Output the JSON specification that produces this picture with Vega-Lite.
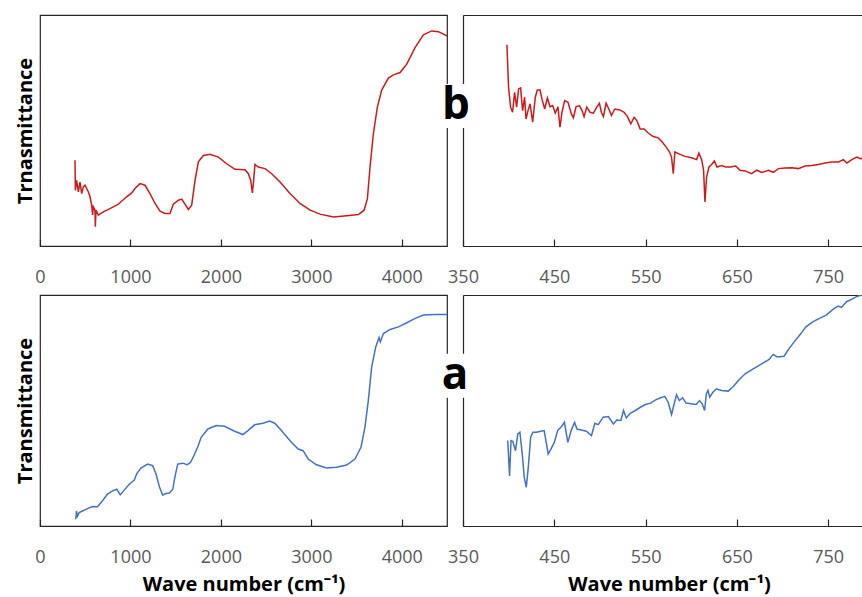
{
  "$schema": "https://vega.github.io/schema/vega-lite/v6.json",
  "background": "white",
  "padding": {"left": 14, "top": 14, "right": 0, "bottom": 0},
  "datasets": {
    "b_full": [
      {"wavenumber": 387, "transmittance": 37.1}, {"wavenumber": 391, "transmittance": 24.1}, {"wavenumber": 405, "transmittance": 28.4},
      {"wavenumber": 424, "transmittance": 23.4}, {"wavenumber": 442, "transmittance": 27.7}, {"wavenumber": 461, "transmittance": 22.7},
      {"wavenumber": 479, "transmittance": 25.6}, {"wavenumber": 498, "transmittance": 26.3}, {"wavenumber": 516, "transmittance": 24.9},
      {"wavenumber": 535, "transmittance": 23.4}, {"wavenumber": 553, "transmittance": 21.3}, {"wavenumber": 571, "transmittance": 17.7},
      {"wavenumber": 582, "transmittance": 13.4}, {"wavenumber": 590, "transmittance": 17.0}, {"wavenumber": 608, "transmittance": 15.5},
      {"wavenumber": 612, "transmittance": 8.3}, {"wavenumber": 619, "transmittance": 15.5}, {"wavenumber": 645, "transmittance": 13.4},
      {"wavenumber": 700, "transmittance": 14.8}, {"wavenumber": 774, "transmittance": 16.2}, {"wavenumber": 866, "transmittance": 18.1},
      {"wavenumber": 958, "transmittance": 21.3}, {"wavenumber": 1014, "transmittance": 23.0}, {"wavenumber": 1050, "transmittance": 24.9},
      {"wavenumber": 1106, "transmittance": 27.0}, {"wavenumber": 1161, "transmittance": 26.3}, {"wavenumber": 1216, "transmittance": 22.7},
      {"wavenumber": 1272, "transmittance": 18.4}, {"wavenumber": 1327, "transmittance": 15.1}, {"wavenumber": 1382, "transmittance": 14.1},
      {"wavenumber": 1437, "transmittance": 14.1}, {"wavenumber": 1474, "transmittance": 18.1}, {"wavenumber": 1530, "transmittance": 19.8},
      {"wavenumber": 1567, "transmittance": 20.3}, {"wavenumber": 1603, "transmittance": 18.1}, {"wavenumber": 1640, "transmittance": 15.8},
      {"wavenumber": 1677, "transmittance": 17.7}, {"wavenumber": 1714, "transmittance": 28.4}, {"wavenumber": 1751, "transmittance": 36.4},
      {"wavenumber": 1806, "transmittance": 39.2}, {"wavenumber": 1880, "transmittance": 39.7}, {"wavenumber": 1972, "transmittance": 38.5},
      {"wavenumber": 2064, "transmittance": 35.6}, {"wavenumber": 2156, "transmittance": 33.2}, {"wavenumber": 2267, "transmittance": 33.0},
      {"wavenumber": 2304, "transmittance": 31.3}, {"wavenumber": 2330, "transmittance": 28.4}, {"wavenumber": 2348, "transmittance": 23.0},
      {"wavenumber": 2359, "transmittance": 27.0}, {"wavenumber": 2377, "transmittance": 35.3}, {"wavenumber": 2414, "transmittance": 34.2},
      {"wavenumber": 2488, "transmittance": 33.5}, {"wavenumber": 2562, "transmittance": 31.3}, {"wavenumber": 2654, "transmittance": 27.7},
      {"wavenumber": 2764, "transmittance": 22.7}, {"wavenumber": 2875, "transmittance": 18.4}, {"wavenumber": 2986, "transmittance": 15.5},
      {"wavenumber": 3096, "transmittance": 13.8}, {"wavenumber": 3244, "transmittance": 12.6}, {"wavenumber": 3391, "transmittance": 13.1},
      {"wavenumber": 3520, "transmittance": 13.6}, {"wavenumber": 3583, "transmittance": 15.5}, {"wavenumber": 3620, "transmittance": 20.5},
      {"wavenumber": 3649, "transmittance": 34.2}, {"wavenumber": 3686, "transmittance": 48.6}, {"wavenumber": 3730, "transmittance": 60.1},
      {"wavenumber": 3778, "transmittance": 67.5}, {"wavenumber": 3852, "transmittance": 72.7}, {"wavenumber": 3907, "transmittance": 74.1},
      {"wavenumber": 3981, "transmittance": 75.1}, {"wavenumber": 4055, "transmittance": 78.7}, {"wavenumber": 4147, "transmittance": 85.9},
      {"wavenumber": 4239, "transmittance": 91.4}, {"wavenumber": 4331, "transmittance": 93.1}, {"wavenumber": 4405, "transmittance": 92.8},
      {"wavenumber": 4504, "transmittance": 90.9}
    ],
    "b_zoom": [
      {"wavenumber": 398.1, "transmittance": 87.1}, {"wavenumber": 399.9, "transmittance": 68.7}, {"wavenumber": 402.1, "transmittance": 60.1},
      {"wavenumber": 404.3, "transmittance": 57.9}, {"wavenumber": 406.5, "transmittance": 66.5}, {"wavenumber": 408.7, "transmittance": 60.1},
      {"wavenumber": 410.9, "transmittance": 68.0}, {"wavenumber": 413.1, "transmittance": 68.4}, {"wavenumber": 415.3, "transmittance": 58.6},
      {"wavenumber": 417.5, "transmittance": 64.4}, {"wavenumber": 419.0, "transmittance": 55.0}, {"wavenumber": 421.2, "transmittance": 58.6},
      {"wavenumber": 423.4, "transmittance": 61.5}, {"wavenumber": 426.3, "transmittance": 53.6}, {"wavenumber": 429.2, "transmittance": 64.4},
      {"wavenumber": 431.4, "transmittance": 67.5}, {"wavenumber": 434.4, "transmittance": 67.5}, {"wavenumber": 436.5, "transmittance": 63.6},
      {"wavenumber": 439.5, "transmittance": 59.3}, {"wavenumber": 442.4, "transmittance": 64.1}, {"wavenumber": 445.3, "transmittance": 60.3},
      {"wavenumber": 448.2, "transmittance": 60.8}, {"wavenumber": 451.1, "transmittance": 57.5}, {"wavenumber": 454.0, "transmittance": 60.3},
      {"wavenumber": 456.2, "transmittance": 51.4}, {"wavenumber": 458.4, "transmittance": 57.9}, {"wavenumber": 461.4, "transmittance": 62.9},
      {"wavenumber": 465.0, "transmittance": 62.2}, {"wavenumber": 468.7, "transmittance": 57.2}, {"wavenumber": 470.9, "transmittance": 55.5},
      {"wavenumber": 473.8, "transmittance": 60.3}, {"wavenumber": 477.5, "transmittance": 60.8}, {"wavenumber": 480.4, "transmittance": 58.6},
      {"wavenumber": 482.6, "transmittance": 56.0}, {"wavenumber": 485.5, "transmittance": 60.1}, {"wavenumber": 489.2, "transmittance": 57.9},
      {"wavenumber": 492.8, "transmittance": 57.5}, {"wavenumber": 496.5, "transmittance": 60.1}, {"wavenumber": 499.4, "transmittance": 61.8},
      {"wavenumber": 501.6, "transmittance": 57.9}, {"wavenumber": 503.8, "transmittance": 56.0}, {"wavenumber": 506.7, "transmittance": 61.8},
      {"wavenumber": 509.7, "transmittance": 59.3}, {"wavenumber": 512.6, "transmittance": 56.5}, {"wavenumber": 516.2, "transmittance": 59.3},
      {"wavenumber": 521.7, "transmittance": 58.9}, {"wavenumber": 526.5, "transmittance": 57.9}, {"wavenumber": 530.1, "transmittance": 56.0},
      {"wavenumber": 533.8, "transmittance": 52.9}, {"wavenumber": 537.4, "transmittance": 55.7}, {"wavenumber": 540.4, "transmittance": 54.3},
      {"wavenumber": 544.0, "transmittance": 50.7}, {"wavenumber": 548.4, "transmittance": 50.7}, {"wavenumber": 552.8, "transmittance": 48.9},
      {"wavenumber": 558.3, "transmittance": 47.4}, {"wavenumber": 563.8, "transmittance": 46.8}, {"wavenumber": 568.2, "transmittance": 45.0},
      {"wavenumber": 572.6, "transmittance": 42.8}, {"wavenumber": 576.2, "transmittance": 40.7}, {"wavenumber": 578.4, "transmittance": 38.5},
      {"wavenumber": 580.3, "transmittance": 31.3}, {"wavenumber": 582.1, "transmittance": 40.7}, {"wavenumber": 586.5, "transmittance": 39.9},
      {"wavenumber": 593.1, "transmittance": 38.8}, {"wavenumber": 600.4, "transmittance": 38.2}, {"wavenumber": 605.9, "transmittance": 37.4},
      {"wavenumber": 608.4, "transmittance": 40.2}, {"wavenumber": 611.4, "transmittance": 37.4}, {"wavenumber": 613.5, "transmittance": 32.8},
      {"wavenumber": 615.0, "transmittance": 19.1}, {"wavenumber": 616.8, "transmittance": 29.9}, {"wavenumber": 619.4, "transmittance": 34.2},
      {"wavenumber": 622.3, "transmittance": 35.3}, {"wavenumber": 625.3, "transmittance": 36.8}, {"wavenumber": 628.2, "transmittance": 34.2},
      {"wavenumber": 633.3, "transmittance": 34.8}, {"wavenumber": 637.7, "transmittance": 34.2}, {"wavenumber": 642.8, "transmittance": 34.2},
      {"wavenumber": 648.7, "transmittance": 34.6}, {"wavenumber": 653.4, "transmittance": 32.8}, {"wavenumber": 658.9, "transmittance": 32.5},
      {"wavenumber": 666.2, "transmittance": 31.3}, {"wavenumber": 671.7, "transmittance": 32.8}, {"wavenumber": 677.2, "transmittance": 31.8},
      {"wavenumber": 684.5, "transmittance": 32.8}, {"wavenumber": 690.0, "transmittance": 31.9}, {"wavenumber": 695.4, "transmittance": 33.5},
      {"wavenumber": 702.7, "transmittance": 33.8}, {"wavenumber": 710.0, "transmittance": 33.9}, {"wavenumber": 717.3, "transmittance": 33.5},
      {"wavenumber": 724.6, "transmittance": 34.6}, {"wavenumber": 732.0, "transmittance": 34.8}, {"wavenumber": 739.3, "transmittance": 35.3},
      {"wavenumber": 746.6, "transmittance": 35.9}, {"wavenumber": 753.9, "transmittance": 36.4}, {"wavenumber": 761.2, "transmittance": 36.4},
      {"wavenumber": 766.7, "transmittance": 37.4}, {"wavenumber": 770.4, "transmittance": 35.9}, {"wavenumber": 775.8, "transmittance": 37.4},
      {"wavenumber": 781.3, "transmittance": 38.5}, {"wavenumber": 785.4, "transmittance": 37.8}, {"wavenumber": 790, "transmittance": 38.2}
    ],
    "a_full": [
      {"wavenumber": 396, "transmittance": 2.9}, {"wavenumber": 403, "transmittance": 6.5}, {"wavenumber": 414, "transmittance": 4.3},
      {"wavenumber": 433, "transmittance": 5.8}, {"wavenumber": 470, "transmittance": 6.5}, {"wavenumber": 525, "transmittance": 7.5},
      {"wavenumber": 580, "transmittance": 8.4}, {"wavenumber": 636, "transmittance": 8.3}, {"wavenumber": 691, "transmittance": 10.9},
      {"wavenumber": 747, "transmittance": 13.8}, {"wavenumber": 802, "transmittance": 15.2}, {"wavenumber": 850, "transmittance": 15.9},
      {"wavenumber": 887, "transmittance": 13.5}, {"wavenumber": 924, "transmittance": 15.2}, {"wavenumber": 987, "transmittance": 18.1},
      {"wavenumber": 1043, "transmittance": 19.9}, {"wavenumber": 1072, "transmittance": 22.8}, {"wavenumber": 1116, "transmittance": 25.1},
      {"wavenumber": 1190, "transmittance": 26.8}, {"wavenumber": 1246, "transmittance": 26.1}, {"wavenumber": 1283, "transmittance": 22.5},
      {"wavenumber": 1320, "transmittance": 17.0}, {"wavenumber": 1357, "transmittance": 13.3}, {"wavenumber": 1394, "transmittance": 14.1},
      {"wavenumber": 1431, "transmittance": 14.3}, {"wavenumber": 1468, "transmittance": 15.9}, {"wavenumber": 1494, "transmittance": 21.7},
      {"wavenumber": 1523, "transmittance": 26.8}, {"wavenumber": 1579, "transmittance": 27.2}, {"wavenumber": 1627, "transmittance": 26.5},
      {"wavenumber": 1664, "transmittance": 27.5}, {"wavenumber": 1701, "transmittance": 30.4}, {"wavenumber": 1745, "transmittance": 34.3},
      {"wavenumber": 1782, "transmittance": 38.4}, {"wavenumber": 1856, "transmittance": 42.0}, {"wavenumber": 1948, "transmittance": 43.5},
      {"wavenumber": 2041, "transmittance": 43.2}, {"wavenumber": 2152, "transmittance": 41.0}, {"wavenumber": 2244, "transmittance": 39.6},
      {"wavenumber": 2299, "transmittance": 41.3}, {"wavenumber": 2373, "transmittance": 43.8}, {"wavenumber": 2466, "transmittance": 44.5},
      {"wavenumber": 2540, "transmittance": 45.4}, {"wavenumber": 2595, "transmittance": 44.5}, {"wavenumber": 2669, "transmittance": 41.3},
      {"wavenumber": 2762, "transmittance": 37.0}, {"wavenumber": 2854, "transmittance": 33.3}, {"wavenumber": 2909, "transmittance": 32.6},
      {"wavenumber": 2965, "transmittance": 29.0}, {"wavenumber": 3057, "transmittance": 26.5}, {"wavenumber": 3168, "transmittance": 25.1},
      {"wavenumber": 3279, "transmittance": 25.4}, {"wavenumber": 3390, "transmittance": 26.4}, {"wavenumber": 3482, "transmittance": 29.0},
      {"wavenumber": 3549, "transmittance": 34.1}, {"wavenumber": 3593, "transmittance": 42.8}, {"wavenumber": 3630, "transmittance": 54.3},
      {"wavenumber": 3667, "transmittance": 68.8}, {"wavenumber": 3712, "transmittance": 77.5}, {"wavenumber": 3749, "transmittance": 81.6},
      {"wavenumber": 3763, "transmittance": 79.7}, {"wavenumber": 3797, "transmittance": 83.3}, {"wavenumber": 3871, "transmittance": 85.1},
      {"wavenumber": 3963, "transmittance": 86.2}, {"wavenumber": 4056, "transmittance": 88.0}, {"wavenumber": 4148, "transmittance": 89.9},
      {"wavenumber": 4240, "transmittance": 91.3}, {"wavenumber": 4370, "transmittance": 91.6}, {"wavenumber": 4507, "transmittance": 91.6}
    ],
    "a_zoom": [
      {"wavenumber": 399.0, "transmittance": 37.0}, {"wavenumber": 401.0, "transmittance": 21.7}, {"wavenumber": 402.6, "transmittance": 37.0},
      {"wavenumber": 404.5, "transmittance": 36.7}, {"wavenumber": 407.5, "transmittance": 32.6}, {"wavenumber": 410.0, "transmittance": 39.9},
      {"wavenumber": 412.3, "transmittance": 40.6}, {"wavenumber": 414.9, "transmittance": 31.2}, {"wavenumber": 417.1, "transmittance": 21.0},
      {"wavenumber": 419.3, "transmittance": 16.7}, {"wavenumber": 421.5, "transmittance": 25.4}, {"wavenumber": 424.1, "transmittance": 38.4},
      {"wavenumber": 426.7, "transmittance": 40.6}, {"wavenumber": 430.4, "transmittance": 40.6}, {"wavenumber": 435.2, "transmittance": 41.0},
      {"wavenumber": 438.9, "transmittance": 41.3}, {"wavenumber": 440.8, "transmittance": 37.0}, {"wavenumber": 443.3, "transmittance": 31.2},
      {"wavenumber": 446.3, "transmittance": 33.3}, {"wavenumber": 450.0, "transmittance": 36.2}, {"wavenumber": 453.7, "transmittance": 41.3},
      {"wavenumber": 457.4, "transmittance": 42.8}, {"wavenumber": 461.1, "transmittance": 44.9}, {"wavenumber": 464.8, "transmittance": 36.2},
      {"wavenumber": 468.5, "transmittance": 41.3}, {"wavenumber": 472.2, "transmittance": 44.9}, {"wavenumber": 474.8, "transmittance": 42.0},
      {"wavenumber": 479.6, "transmittance": 41.6}, {"wavenumber": 485.1, "transmittance": 41.0}, {"wavenumber": 490.7, "transmittance": 39.1},
      {"wavenumber": 494.4, "transmittance": 44.5}, {"wavenumber": 498.1, "transmittance": 43.9}, {"wavenumber": 503.6, "transmittance": 47.1},
      {"wavenumber": 509.2, "transmittance": 47.4}, {"wavenumber": 514.7, "transmittance": 44.2}, {"wavenumber": 518.4, "transmittance": 45.9},
      {"wavenumber": 522.9, "transmittance": 45.7}, {"wavenumber": 525.8, "transmittance": 50.0}, {"wavenumber": 528.8, "transmittance": 46.8},
      {"wavenumber": 533.2, "transmittance": 48.8}, {"wavenumber": 538.8, "transmittance": 50.0}, {"wavenumber": 544.3, "transmittance": 51.4},
      {"wavenumber": 549.9, "transmittance": 52.6}, {"wavenumber": 555.4, "transmittance": 53.2}, {"wavenumber": 561.0, "transmittance": 54.6},
      {"wavenumber": 566.5, "transmittance": 55.5}, {"wavenumber": 571.0, "transmittance": 56.1}, {"wavenumber": 574.7, "transmittance": 53.6},
      {"wavenumber": 578.4, "transmittance": 48.3}, {"wavenumber": 581.3, "transmittance": 52.9}, {"wavenumber": 583.9, "transmittance": 56.8},
      {"wavenumber": 586.9, "transmittance": 54.3}, {"wavenumber": 590.6, "transmittance": 55.5}, {"wavenumber": 594.3, "transmittance": 53.2},
      {"wavenumber": 599.8, "transmittance": 52.9}, {"wavenumber": 605.4, "transmittance": 52.6}, {"wavenumber": 609.1, "transmittance": 54.3},
      {"wavenumber": 612.0, "transmittance": 52.9}, {"wavenumber": 614.6, "transmittance": 50.0}, {"wavenumber": 616.5, "transmittance": 57.2},
      {"wavenumber": 618.3, "transmittance": 58.7}, {"wavenumber": 620.2, "transmittance": 55.8}, {"wavenumber": 623.9, "transmittance": 58.0},
      {"wavenumber": 627.6, "transmittance": 59.4}, {"wavenumber": 633.1, "transmittance": 58.7}, {"wavenumber": 640.5, "transmittance": 58.4},
      {"wavenumber": 646.1, "transmittance": 60.4}, {"wavenumber": 651.6, "transmittance": 63.0}, {"wavenumber": 659.0, "transmittance": 65.9},
      {"wavenumber": 668.3, "transmittance": 68.1}, {"wavenumber": 677.5, "transmittance": 70.3}, {"wavenumber": 684.9, "transmittance": 72.0},
      {"wavenumber": 689.7, "transmittance": 74.3}, {"wavenumber": 694.2, "transmittance": 73.2}, {"wavenumber": 701.6, "transmittance": 73.5},
      {"wavenumber": 707.1, "transmittance": 76.8}, {"wavenumber": 712.7, "transmittance": 79.7}, {"wavenumber": 720.1, "transmittance": 83.3},
      {"wavenumber": 725.6, "transmittance": 86.2}, {"wavenumber": 733.0, "transmittance": 88.4}, {"wavenumber": 740.4, "transmittance": 89.9},
      {"wavenumber": 747.8, "transmittance": 91.3}, {"wavenumber": 755.2, "transmittance": 93.8}, {"wavenumber": 760.8, "transmittance": 95.2},
      {"wavenumber": 764.5, "transmittance": 94.6}, {"wavenumber": 770.0, "transmittance": 97.1}, {"wavenumber": 775.6, "transmittance": 98.1},
      {"wavenumber": 781.1, "transmittance": 99.3}, {"wavenumber": 786.7, "transmittance": 100}, {"wavenumber": 790.7, "transmittance": 100.4}
    ],
    "label_b": [{"wavenumber": 350, "transmittance": 60.6, "label": "b"}],
    "label_a": [{"wavenumber": 350, "transmittance": 65.0, "label": "a"}]
  },
  "concat": [
    {
      "width": 407, "height": 231,
      "view": {"stroke": "#262626", "strokeWidth": 1.2},
      "data": {"name": "b_full"},
      "mark": {"type": "line", "color": "#CC1A1A", "strokeWidth": 1.5, "clip": true},
      "encoding": {
        "x": {"field": "wavenumber", "type": "quantitative", "scale": {"domain": [0, 4500], "nice": false, "zero": false},
              "axis": {"values": [0, 1000, 2000, 3000, 4000], "format": "d", "title": null, "domain": false}},
        "y": {"field": "transmittance", "type": "quantitative", "scale": {"domain": [0, 100], "nice": false},
              "axis": {"title": "Trnasmittance", "domain": false}}
      }
    },
    {
      "width": 399, "height": 231,
      "view": {"stroke": null},
      "layer": [
        {
          "data": {"name": "b_zoom"},
          "mark": {"type": "line", "color": "#CC1A1A", "strokeWidth": 1.5, "clip": true},
          "encoding": {
            "x": {"field": "wavenumber", "type": "quantitative", "scale": {"domain": [350, 787], "nice": false, "zero": false},
                  "axis": {"values": [350, 450, 550, 650, 750], "format": "d", "title": null}},
            "y": {"field": "transmittance", "type": "quantitative", "scale": {"domain": [0, 100], "nice": false}, "title": null}
          }
        },
        {
          "data": {"name": "label_b"},
          "mark": {"type": "point", "shape": "M-0.59,-1H0.59V1H-0.59Z", "size": 1936, "filled": true, "color": "white", "opacity": 1, "xOffset": -7},
          "encoding": {
            "x": {"field": "wavenumber", "type": "quantitative", "axis": {"orient": "top", "labels": false, "ticks": false, "title": null}},
            "y": {"field": "transmittance", "type": "quantitative", "title": null}
          }
        },
        {
          "data": {"name": "label_b"},
          "mark": {"type": "text", "font": "Open Sans", "fontSize": 44, "fontWeight": "bold", "color": "black", "align": "center", "baseline": "middle", "dx": -7},
          "encoding": {
            "x": {"field": "wavenumber", "type": "quantitative", "axis": null},
            "y": {"field": "transmittance", "type": "quantitative", "title": null},
            "text": {"field": "label"}
          }
        }
      ],
      "resolve": {"axis": {"x": "independent"}}
    },
    {
      "width": 407, "height": 231,
      "view": {"stroke": "#262626", "strokeWidth": 1.2},
      "data": {"name": "a_full"},
      "mark": {"type": "line", "color": "#4472C4", "strokeWidth": 1.5, "clip": true},
      "encoding": {
        "x": {"field": "wavenumber", "type": "quantitative", "scale": {"domain": [0, 4500], "nice": false, "zero": false},
              "axis": {"values": [0, 1000, 2000, 3000, 4000], "format": "d", "title": "Wave number (cm⁻¹)", "domain": false}},
        "y": {"field": "transmittance", "type": "quantitative", "scale": {"domain": [0, 100], "nice": false},
              "axis": {"title": "Transmittance", "domain": false}}
      }
    },
    {
      "width": 399, "height": 231,
      "view": {"stroke": null},
      "layer": [
        {
          "data": {"name": "a_zoom"},
          "mark": {"type": "line", "color": "#4472C4", "strokeWidth": 1.5, "clip": true},
          "encoding": {
            "x": {"field": "wavenumber", "type": "quantitative", "scale": {"domain": [350, 787], "nice": false, "zero": false},
                  "axis": {"values": [350, 450, 550, 650, 750], "format": "d", "title": "Wave number (cm⁻¹)", "titleX": 206}},
            "y": {"field": "transmittance", "type": "quantitative", "scale": {"domain": [0, 100], "nice": false}, "title": null}
          }
        },
        {
          "data": {"name": "label_a"},
          "mark": {"type": "point", "shape": "M-0.59,-1H0.59V1H-0.59Z", "size": 1936, "filled": true, "color": "white", "opacity": 1, "xOffset": -8},
          "encoding": {
            "x": {"field": "wavenumber", "type": "quantitative", "axis": {"orient": "top", "labels": false, "ticks": false, "title": null}},
            "y": {"field": "transmittance", "type": "quantitative", "title": null}
          }
        },
        {
          "data": {"name": "label_a"},
          "mark": {"type": "text", "font": "Open Sans", "fontSize": 44, "fontWeight": "bold", "color": "black", "align": "center", "baseline": "middle", "dx": -8},
          "encoding": {
            "x": {"field": "wavenumber", "type": "quantitative", "axis": null},
            "y": {"field": "transmittance", "type": "quantitative", "title": null},
            "text": {"field": "label"}
          }
        }
      ],
      "resolve": {"axis": {"x": "independent"}}
    }
  ],
  "columns": 2,
  "spacing": {"row": 49, "column": 16},
  "bounds": "flush",
  "config": {
    "view": {"stroke": null},
    "axis": {
      "zindex": 0,
      "grid": false,
      "domainColor": "#262626",
      "domainWidth": 1.2,
      "tickColor": "#262626",
      "tickWidth": 1.2,
      "labelFont": "Open Sans",
      "labelFontSize": 18,
      "labelColor": "#595959",
      "labelFlush": false,
      "labelOverlap": false,
      "titleFont": "Open Sans",
      "titleFontSize": 20,
      "titleFontWeight": "bold",
      "titleColor": "#000000"
    },
    "axisX": {"tickSize": -7, "labelPadding": 29, "titlePadding": 8},
    "axisY": {"ticks": false, "labels": false, "titlePadding": 5}
  }
}
